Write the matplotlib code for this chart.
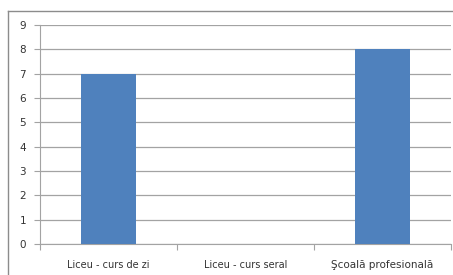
import matplotlib
matplotlib.use("Agg")
import matplotlib.pyplot as plt
from matplotlib.lines import Line2D

categories = ["Liceu - curs de zi", "Liceu - curs seral", "Şcoală profesională"]
values = [7, 0, 8]
yticks = list(range(0, 10))

W, H = 453, 275
fig = plt.figure(figsize=(W/100, H/100), dpi=100)
fig.patch.set_facecolor("white")

# outer chart border (left and top visible)
fig.add_artist(Line2D([8/W, 8/W], [0, 1 - 11/H], color="#8c8c8c", lw=1.0, transform=fig.transFigure))
fig.add_artist(Line2D([8/W, 1], [1 - 11/H, 1 - 11/H], color="#8c8c8c", lw=1.0, transform=fig.transFigure))

left, right, top, bottom = 40, 451, 25, 244
ax = fig.add_axes([left/W, 1 - bottom/H, (right-left)/W, (bottom-top)/H])
x = list(range(len(categories)))
ax.bar(x, values, width=0.4, color="#4F81BD", zorder=3)
ax.set_xlim(-0.5, len(categories) - 0.5)
ax.set_ylim(0, 9)
ax.set_yticks(yticks)
ax.set_yticklabels([str(t) for t in yticks], fontsize=7.5, color="#333333", family="DejaVu Sans")
ax.yaxis.grid(True, color="#a3a3a3", lw=0.9, zorder=0)
ax.set_xticks([-0.5, 0.5, 1.5, 2.5])
ax.set_xticklabels([])
ax.tick_params(axis="x", direction="out", length=4, color="#a3a3a3", width=0.8)
ax.tick_params(axis="y", direction="out", length=4, color="#a3a3a3", width=0.8, pad=6)
for i, c in enumerate(categories):
    ax.text(i, -0.85, c, ha="center", va="center", fontsize=7 if i < 2 else 7.5,
            color="#333333", family="DejaVu Sans", transform=ax.transData)
for s in ["top", "right"]:
    ax.spines[s].set_visible(False)
ax.spines["left"].set_color("#a3a3a3")
ax.spines["bottom"].set_color("#a3a3a3")
ax.set_axisbelow(True)

fig.savefig("out.png", dpi=100, facecolor="white")
